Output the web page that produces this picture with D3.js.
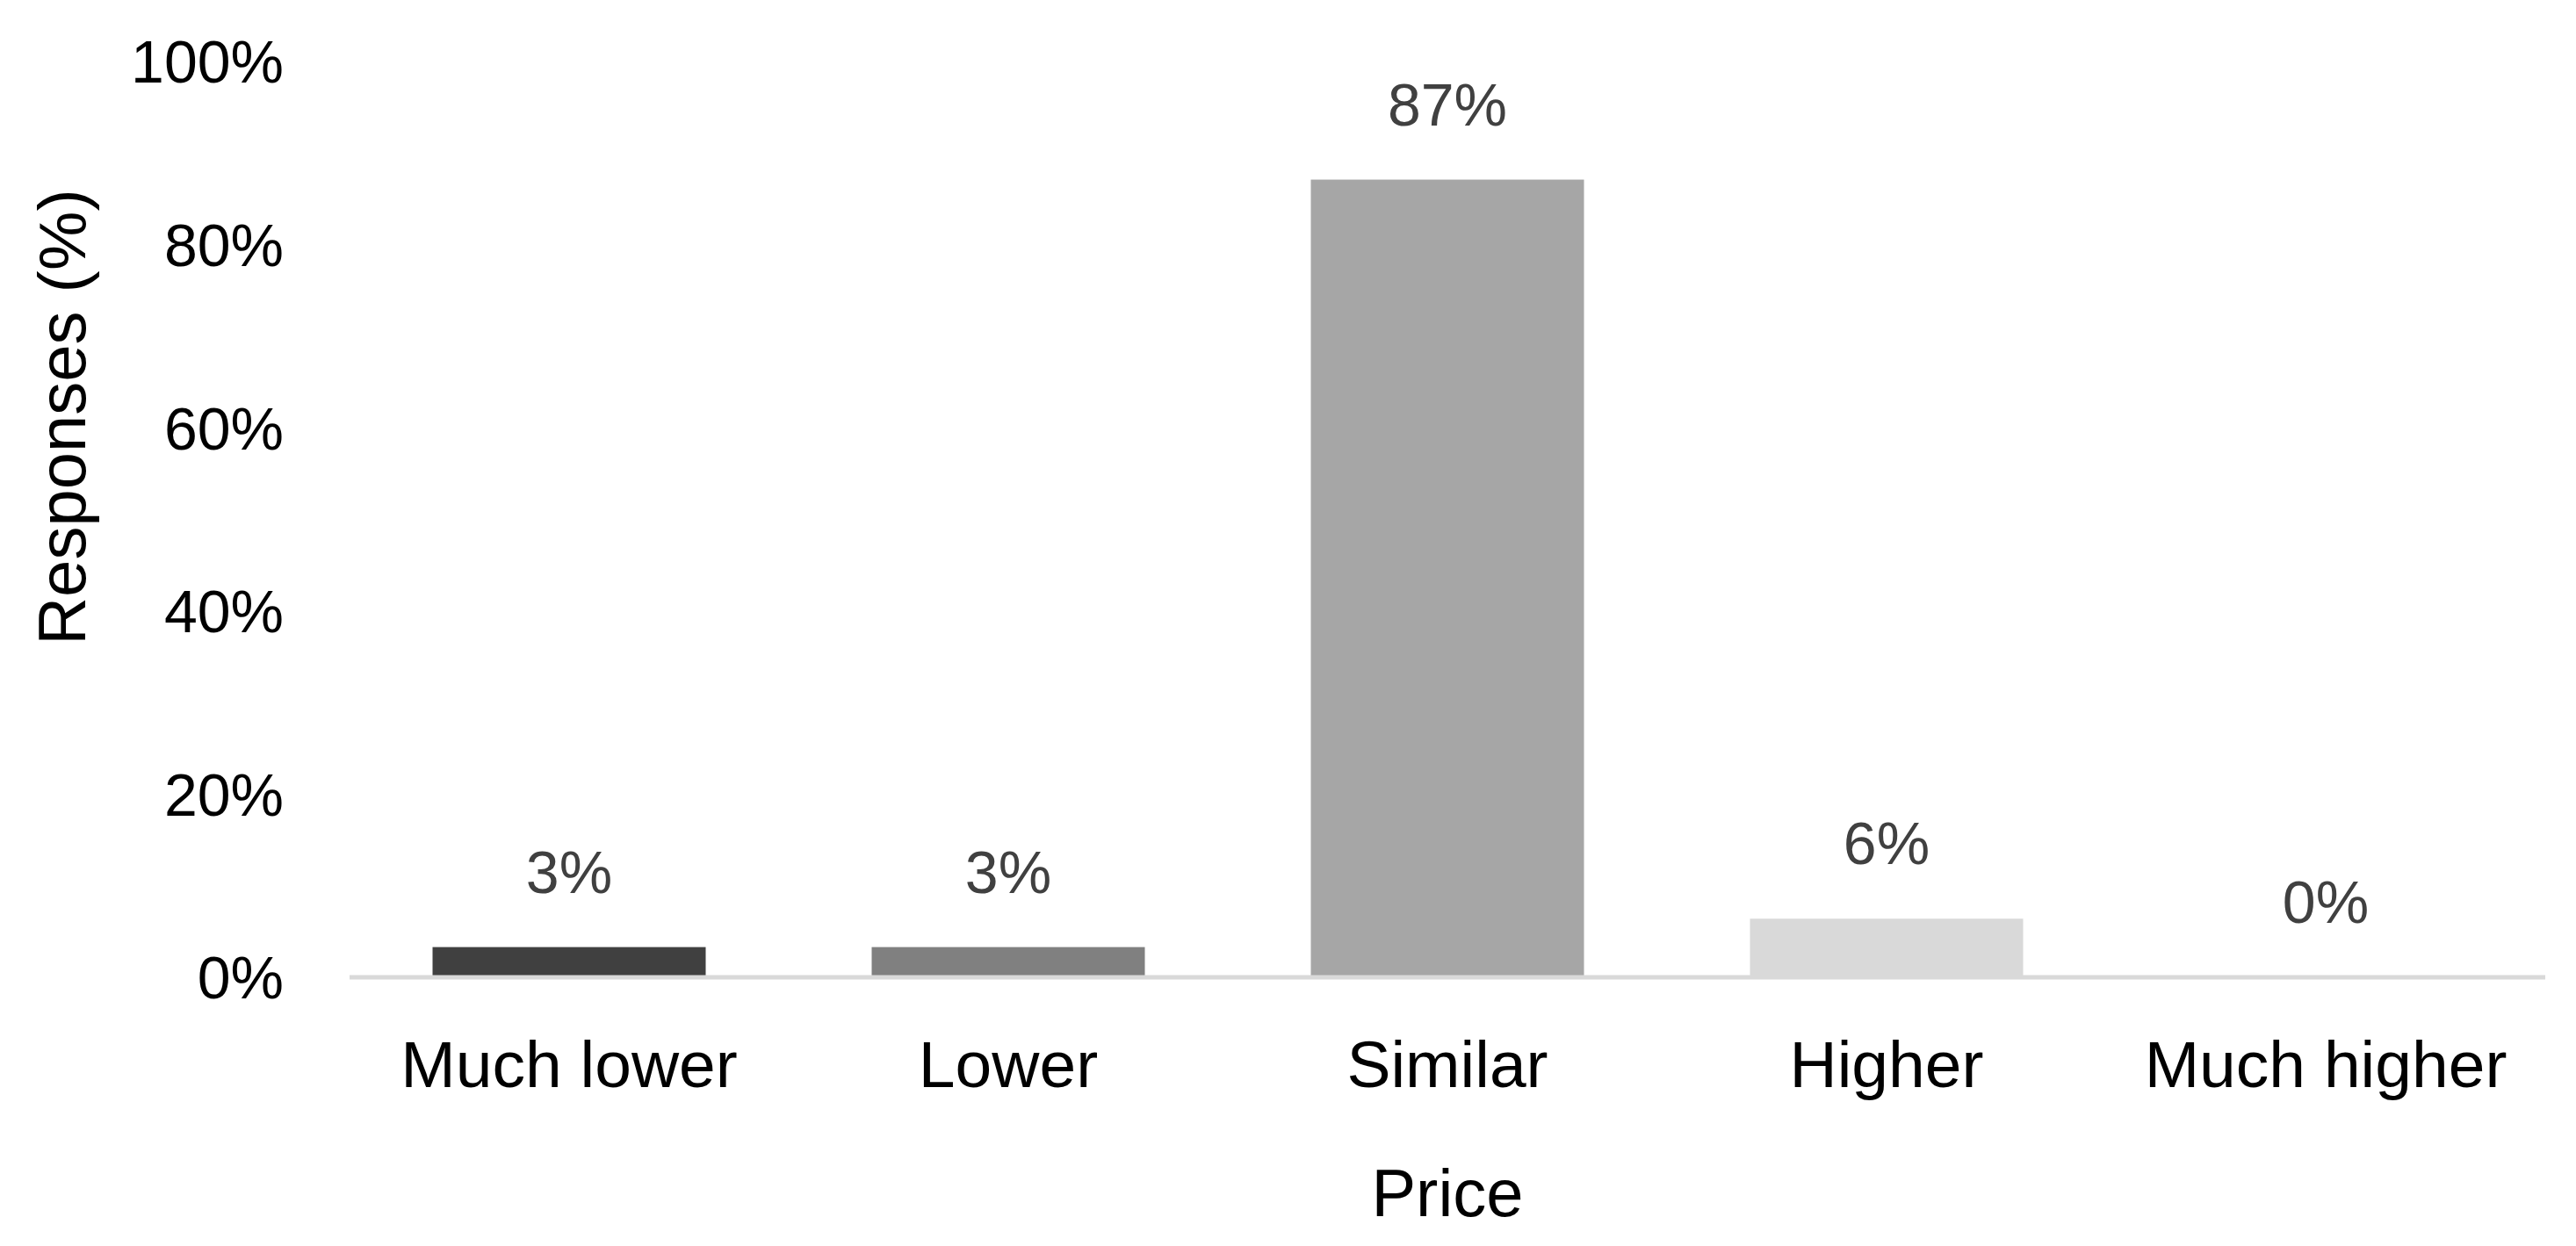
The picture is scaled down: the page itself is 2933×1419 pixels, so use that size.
<!DOCTYPE html>
<html>
<head>
<meta charset="utf-8">
<script src="https://cdn.jsdelivr.net/npm/d3@7"></script>
<style>
  html, body { margin: 0; padding: 0; background: #ffffff; }
  svg { display: block; }
  text { font-family: "Liberation Sans", Arial, sans-serif; }
</style>
</head>
<body>
<svg id="chart" width="2933" height="1419"></svg>
<script>
// ---- data ----
const categories = ["Much lower", "Lower", "Similar", "Higher", "Much higher"];
const values = [3.3, 3.3, 87.1, 6.4, 0];
const barColors = ["#404040", "#808080", "#a6a6a6", "#d9d9d9", "#f2f2f2"];
const yTicks = [0, 20, 40, 60, 80, 100];
const xTitle = "Price";
const yTitle = "Responses (%)";

// ---- layout ----
const W = 2933, H = 1419;
const plot = { left: 398, right: 2898, top: 70, bottom: 1113 };

const svg = d3.select("#chart");

const x = d3.scaleBand()
  .domain(categories)
  .range([plot.left, plot.right])
  .paddingInner(0.378)
  .paddingOuter(0.189);

const y = d3.scaleLinear()
  .domain([0, 100])
  .range([plot.bottom, plot.top]);

// y-axis tick labels (no axis line, no ticks)
const yAxis = d3.axisLeft(y)
  .tickValues(yTicks)
  .tickFormat(d => d + "%")
  .tickSize(0)
  .tickPadding(0);
const yG = svg.append("g")
  .attr("transform", `translate(${323},0)`)
  .call(yAxis);
yG.select(".domain").remove();
yG.selectAll("text")
  .attr("font-family", "Liberation Sans, Arial, sans-serif")
  .attr("font-size", 68)
  .attr("fill", "#000")
  .attr("dy", "0.35em");

// bars
svg.append("g")
  .selectAll("rect")
  .data(categories.map((c, i) => ({ c, v: values[i], col: barColors[i] })))
  .join("rect")
  .filter(d => d.v > 0)
  .attr("x", d => x(d.c))
  .attr("y", d => y(d.v))
  .attr("width", x.bandwidth())
  .attr("height", d => y(0) - y(d.v))
  .attr("fill", d => d.col);

// baseline
svg.append("line")
  .attr("x1", plot.left)
  .attr("x2", plot.right)
  .attr("y1", y(0))
  .attr("y2", y(0))
  .attr("stroke", "#d9d9d9")
  .attr("stroke-width", 5);

// data labels
svg.append("g")
  .selectAll("text")
  .data(categories.map((c, i) => ({ c, v: values[i] })))
  .join("text")
  .attr("x", d => x(d.c) + x.bandwidth() / 2)
  .attr("y", d => y(d.v) - 62)
  .attr("text-anchor", "middle")
  .attr("font-size", 68)
  .attr("fill", "#404040")
  .text(d => Math.round(d.v) + "%");

// x-axis category labels
const xAxis = d3.axisBottom(x).tickSize(0).tickPadding(0);
const xG = svg.append("g")
  .attr("transform", `translate(0,${1238})`)
  .call(xAxis);
xG.select(".domain").remove();
xG.selectAll("text")
  .attr("font-family", "Liberation Sans, Arial, sans-serif")
  .attr("font-size", 75)
  .attr("fill", "#000")
  .attr("dy", 0)
  .attr("y", 0);

// axis titles
svg.append("text")
  .attr("x", (plot.left + plot.right) / 2)
  .attr("y", 1385)
  .attr("text-anchor", "middle")
  .attr("font-size", 76)
  .attr("fill", "#000")
  .text(xTitle);

svg.append("text")
  .attr("transform", `translate(97,475) rotate(-90)`)
  .attr("text-anchor", "middle")
  .attr("font-size", 76)
  .attr("fill", "#000")
  .text(yTitle);
</script>
</body>
</html>
